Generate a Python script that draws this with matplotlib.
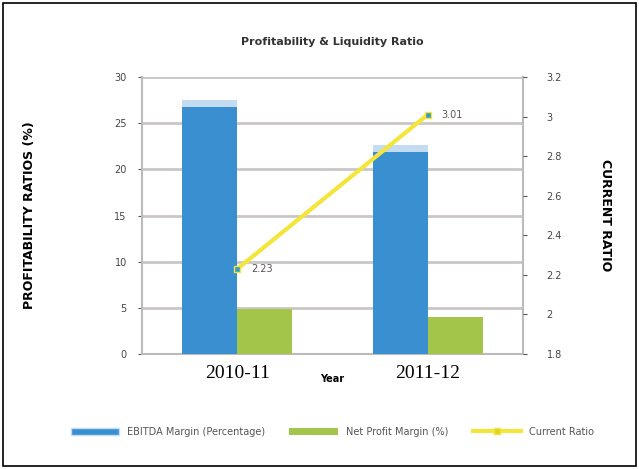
import matplotlib.pyplot as plt
import numpy as np
from matplotlib.lines import Line2D
from matplotlib.patches import Patch

years = ['2010-11', '2011-12']
ebitda_margin = [27.5, 22.6]
net_margin = [4.9, 4.0]
current_ratio = [2.23, 3.01]
ratio_labels = ['2.23', '3.01']

blue = '#3a8fd0'
blue_cap = '#c4dcf2'
green = '#a3c64a'
yellow = '#f3e53a'
grid_col = '#cbc6c6'

fig = plt.figure(figsize=(6.39, 4.69), dpi=100)
fig.patch.set_facecolor('white')
# outer frame
fig.add_artist(plt.Rectangle((0.005, 0.006), 0.99, 0.988, transform=fig.transFigure,
                             fill=False, edgecolor='black', linewidth=1.2))

ax = fig.add_axes([142/639, 1 - 354/469, 381/639, 277/469])
x = np.arange(len(years))
w = 0.29

ax.bar(x - w/2, ebitda_margin, w, color=blue, zorder=3)
ax.bar(x - w/2, [0.7]*2, w, bottom=[v - 0.7 for v in ebitda_margin], color=blue_cap, zorder=3)
ax.bar(x + w/2, net_margin, w, color=green, zorder=3)

ax.set_xlim(-0.5, 1.5)
ax.set_ylim(0, 30)
ax.set_yticks(range(0, 31, 5))
ax.yaxis.grid(True, color=grid_col, linewidth=2, zorder=0)
ax.set_xticks(x)
ax.set_xticklabels(years, fontfamily='Liberation Serif', fontsize=14)
ax.tick_params(axis='x', length=0, pad=8)
ax.tick_params(axis='y', labelsize=7, colors='#555555', length=3, labelcolor='#444444', pad=8)
ax.spines['top'].set_visible(False)
for s in ['left', 'right', 'bottom']:
    ax.spines[s].set_color('#bbbbbb')
    ax.spines[s].set_linewidth(1.5)
ax.set_xlabel('Year', fontsize=7, fontweight='bold', labelpad=-6)
ax.set_ylabel('PROFITABILITY RATIOS (%)', fontsize=9, fontweight='bold', labelpad=56)

ax2 = ax.twinx()
ax2.set_ylim(1.8, 3.2)
ax2.set_yticks([1.8, 2.0, 2.2, 2.4, 2.6, 2.8, 3.0, 3.2])
ax2.set_yticklabels(['1.8', '2', '2.2', '2.4', '2.6', '2.8', '3', '3.2'])
ax2.tick_params(axis='y', labelsize=7, colors='#555555', length=3, labelcolor='#444444', pad=14)
ax2.plot(x, current_ratio, color=yellow, linewidth=3, marker='s', markersize=5,
         markerfacecolor='#3a9ac0', markeredgecolor=yellow, zorder=4)
for xi, v, t in zip(x, current_ratio, ratio_labels):
    ax2.annotate(t, (xi, v), xytext=(10, 0), textcoords='offset points',
                 fontsize=7, color='#555555', va='center')
for s in ['top', 'left', 'bottom', 'right']:
    ax2.spines[s].set_visible(False)
ax2.set_ylabel('CURRENT RATIO', fontsize=9, fontweight='bold', rotation=-90, labelpad=36)

fig.text(0.52, 1 - 42/469, 'Profitability & Liquidity Ratio', ha='center', va='center',
         fontsize=8, fontweight='bold', color='#333333')

handles = [Patch(facecolor=blue, edgecolor=blue_cap),
           Patch(facecolor=green),
           Line2D([0], [0], color=yellow, linewidth=3, marker='s', markersize=4,
                  markerfacecolor='#e0d020', markeredgecolor=yellow)]
labels = ['EBITDA Margin (Percentage)', 'Net Profit Margin (%)', 'Current Ratio']
fig.legend(handles, labels, loc='center', bbox_to_anchor=(0.52, 1 - 432/469), ncol=3,
           frameon=False, fontsize=7, handlelength=5, handleheight=0.8, columnspacing=2.5,
           labelcolor='#555555')

fig.savefig('out.png', dpi=100)
